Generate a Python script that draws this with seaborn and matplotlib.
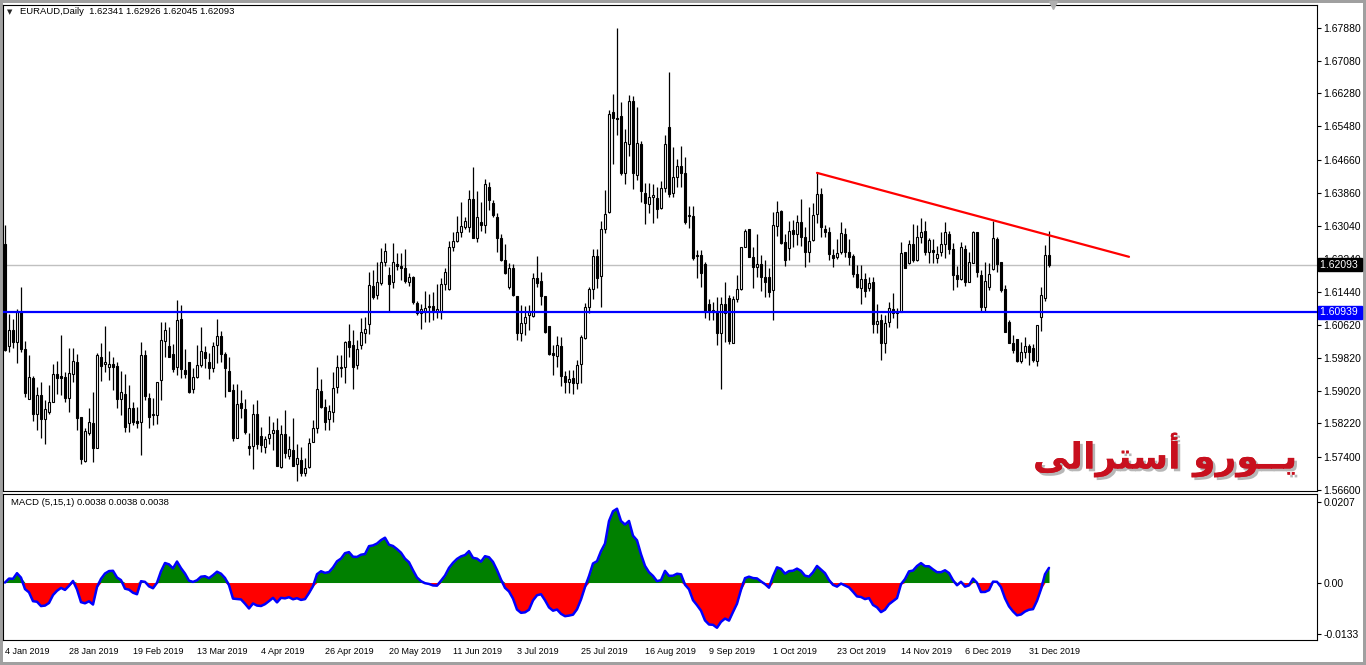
import numpy as np
import pandas as pd
import seaborn as sns
import matplotlib.pyplot as plt
import matplotlib.transforms as mtransforms
from matplotlib import patheffects

# daily EURAUD candles (bar 0 = 4 Jan 2019)
opens = [
    1.6261, 1.6011, 1.6051, 1.6021, 1.6095, 1.6004, 1.5882, 1.5933, 1.5845, 1.5892,
    1.5833, 1.5850, 1.5875, 1.5943, 1.5938, 1.5936, 1.5885, 1.5943, 1.5972, 1.5838,
    1.5731, 1.5799, 1.5824, 1.5762, 1.5985, 1.5968, 1.5960, 1.5968, 1.5963, 1.5882,
    1.5894, 1.5824, 1.5860, 1.5828, 1.5826, 1.5990, 1.5885, 1.5843, 1.5843, 1.5929,
    1.6024, 1.6011, 1.5992, 1.5960, 1.6077, 1.5953, 1.5972, 1.5907, 1.5936, 1.5965,
    1.5997, 1.5972, 1.5958, 1.6014, 1.6036, 1.5992, 1.5950, 1.5904, 1.5787, 1.5872,
    1.5858, 1.5767, 1.5767, 1.5845, 1.5792, 1.5765, 1.5787, 1.5799, 1.5806, 1.5716,
    1.5797, 1.5743, 1.5758, 1.5723, 1.5733, 1.5701, 1.5716, 1.5777, 1.5811, 1.5902,
    1.5862, 1.5833, 1.5850, 1.5911, 1.5958, 1.5960, 1.6024, 1.6014, 1.5965, 1.6014,
    1.6043, 1.6065, 1.6158, 1.6136, 1.6165, 1.6217, 1.6185, 1.6168, 1.6212, 1.6207,
    1.6202, 1.6168, 1.6180, 1.6116, 1.6092, 1.6095, 1.6107, 1.6109, 1.6095, 1.6097,
    1.6163, 1.6151, 1.6253, 1.6268, 1.6290, 1.6302, 1.6302, 1.6370, 1.6275, 1.6314,
    1.6307, 1.6400, 1.6361, 1.6326, 1.6275, 1.6222, 1.6155, 1.6202, 1.6134, 1.6043,
    1.6068, 1.6087, 1.6085, 1.6178, 1.6170, 1.6134, 1.6060, 1.5994, 1.5987, 1.6011,
    1.5938, 1.5924, 1.5933, 1.5921, 1.5968, 1.6031, 1.6107, 1.6151, 1.6231, 1.6182,
    1.6297, 1.6339, 1.6583, 1.6568, 1.6573, 1.6434, 1.6505, 1.6610, 1.6429, 1.6505,
    1.6385, 1.6358, 1.6375, 1.6373, 1.6348, 1.6397, 1.6546, 1.6385, 1.6424, 1.6451,
    1.6434, 1.6329, 1.6329, 1.6231, 1.6234, 1.6212, 1.6114, 1.6095, 1.6097, 1.6043,
    1.6114, 1.6129, 1.6019, 1.6126, 1.6151, 1.6253, 1.6297, 1.6229, 1.6204, 1.6212,
    1.6180, 1.6180, 1.6148, 1.6305, 1.6341, 1.6265, 1.6251, 1.6295, 1.6285, 1.6314,
    1.6278, 1.6241, 1.6270, 1.6334, 1.6383, 1.6297, 1.6290, 1.6234, 1.6229, 1.6241,
    1.6285, 1.6241, 1.6231, 1.6187, 1.6153, 1.6175, 1.6153, 1.6168, 1.6065, 1.6075,
    1.6019, 1.6070, 1.6102, 1.6092, 1.6095, 1.6241, 1.6214, 1.6261, 1.6222, 1.6278,
    1.6292, 1.6241, 1.6246, 1.6226, 1.6241, 1.6261, 1.6285, 1.6248, 1.6185, 1.6175,
    1.6248, 1.6168, 1.6214, 1.6290, 1.6185, 1.6107, 1.6156, 1.6200, 1.6273, 1.6217,
    1.6151, 1.6070, 1.6019, 1.6028, 1.5975, 1.5997, 1.6011, 1.6007, 1.5975, 1.6082,
    1.6129, 1.62341,
]
highs = [
    1.6307, 1.6090, 1.6077, 1.6102, 1.6156, 1.6024, 1.5990, 1.5938, 1.5911, 1.5924,
    1.5880, 1.5916, 1.5968, 1.5975, 1.6038, 1.5948, 1.6007, 1.6007, 1.5992, 1.5838,
    1.5811, 1.5860, 1.5899, 1.5994, 1.6019, 1.6060, 1.5999, 1.5985, 1.5972, 1.5950,
    1.5943, 1.5916, 1.5875, 1.5862, 1.6021, 1.6002, 1.5897, 1.5885, 1.5924, 1.6070,
    1.6070, 1.6058, 1.6016, 1.6124, 1.6112, 1.6004, 1.5972, 1.5958, 1.6014, 1.6058,
    1.6011, 1.5994, 1.6021, 1.6077, 1.6048, 1.5997, 1.5985, 1.5919, 1.5919, 1.5904,
    1.5882, 1.5799, 1.5870, 1.5880, 1.5814, 1.5792, 1.5841, 1.5826, 1.5836, 1.5819,
    1.5855, 1.5792, 1.5836, 1.5772, 1.5765, 1.5738, 1.5787, 1.5831, 1.5960, 1.5931,
    1.5882, 1.5867, 1.5948, 1.5990, 1.5990, 1.6024, 1.6065, 1.6051, 1.6026, 1.6080,
    1.6082, 1.6192, 1.6197, 1.6217, 1.6251, 1.6263, 1.6204, 1.6263, 1.6239, 1.6239,
    1.6248, 1.6190, 1.6182, 1.6121, 1.6114, 1.6146, 1.6139, 1.6143, 1.6163, 1.6178,
    1.6202, 1.6268, 1.6290, 1.6329, 1.6363, 1.6326, 1.6393, 1.6449, 1.6390, 1.6363,
    1.6419, 1.6412, 1.6368, 1.6336, 1.6285, 1.6261, 1.6214, 1.6212, 1.6134, 1.6112,
    1.6109, 1.6112, 1.6190, 1.6231, 1.6192, 1.6134, 1.6060, 1.6014, 1.6036, 1.6033,
    1.5950, 1.5953, 1.5953, 1.5977, 1.6038, 1.6116, 1.6156, 1.6248, 1.6248, 1.6317,
    1.6393, 1.6588, 1.6627, 1.6788, 1.6607, 1.6541, 1.6624, 1.6622, 1.6595, 1.6512,
    1.6410, 1.6410, 1.6407, 1.6400, 1.6414, 1.6527, 1.6681, 1.6497, 1.6468, 1.6500,
    1.6473, 1.6353, 1.6353, 1.6246, 1.6246, 1.6217, 1.6126, 1.6119, 1.6131, 1.6131,
    1.6168, 1.6136, 1.6134, 1.6185, 1.6253, 1.6297, 1.6297, 1.6253, 1.6285, 1.6234,
    1.6222, 1.6202, 1.6339, 1.6366, 1.6344, 1.6285, 1.6317, 1.6319, 1.6331, 1.6371,
    1.6302, 1.6351, 1.6361, 1.6434, 1.6397, 1.6307, 1.6302, 1.6248, 1.6273, 1.6314,
    1.6300, 1.6273, 1.6236, 1.6209, 1.6209, 1.6190, 1.6180, 1.6180, 1.6114, 1.6090,
    1.6087, 1.6119, 1.6141, 1.6104, 1.6265, 1.6241, 1.6270, 1.6309, 1.6307, 1.6324,
    1.6317, 1.6275, 1.6273, 1.6256, 1.6290, 1.6314, 1.6292, 1.6263, 1.6207, 1.6265,
    1.6258, 1.6241, 1.6292, 1.6290, 1.6197, 1.6217, 1.6214, 1.6317, 1.6278, 1.6217,
    1.6161, 1.6075, 1.6038, 1.6028, 1.6021, 1.6033, 1.6016, 1.6016, 1.6063, 1.6156,
    1.6258, 1.62926,
]
lows = [
    1.5998, 1.5997, 1.6007, 1.5970, 1.5997, 1.5887, 1.5882, 1.5828, 1.5806, 1.5787,
    1.5772, 1.5845, 1.5875, 1.5894, 1.5892, 1.5875, 1.5850, 1.5924, 1.5806, 1.5723,
    1.5728, 1.5794, 1.5728, 1.5762, 1.5926, 1.5948, 1.5929, 1.5904, 1.5860, 1.5843,
    1.5801, 1.5801, 1.5819, 1.5811, 1.5745, 1.5880, 1.5811, 1.5819, 1.5821, 1.5880,
    1.5985, 1.5985, 1.5948, 1.5941, 1.5933, 1.5933, 1.5897, 1.5897, 1.5933, 1.5960,
    1.5958, 1.5931, 1.5948, 1.5970, 1.5972, 1.5887, 1.5902, 1.5780, 1.5787, 1.5836,
    1.5797, 1.5745, 1.5711, 1.5760, 1.5753, 1.5750, 1.5772, 1.5758, 1.5718, 1.5714,
    1.5738, 1.5736, 1.5718, 1.5682, 1.5694, 1.5694, 1.5714, 1.5777, 1.5799, 1.5860,
    1.5806, 1.5806, 1.5826, 1.5897, 1.5936, 1.5921, 1.5985, 1.5907, 1.5955, 1.6004,
    1.6019, 1.6041, 1.6126, 1.6126, 1.6160, 1.6207, 1.6097, 1.6153, 1.6197, 1.6173,
    1.6165, 1.6158, 1.6114, 1.6087, 1.6053, 1.6070, 1.6070, 1.6075, 1.6080, 1.6077,
    1.6148, 1.6148, 1.6244, 1.6265, 1.6278, 1.6297, 1.6290, 1.6275, 1.6265, 1.6292,
    1.6287, 1.6344, 1.6326, 1.6241, 1.6219, 1.6187, 1.6151, 1.6134, 1.6026, 1.6024,
    1.6038, 1.6051, 1.6082, 1.6156, 1.6112, 1.6043, 1.5990, 1.5941, 1.5960, 1.5914,
    1.5897, 1.5897, 1.5894, 1.5907, 1.5921, 1.6028, 1.6092, 1.6126, 1.6153, 1.6107,
    1.6287, 1.6336, 1.6456, 1.6527, 1.6429, 1.6407, 1.6475, 1.6395, 1.6417, 1.6363,
    1.6309, 1.6336, 1.6312, 1.6324, 1.6346, 1.6388, 1.6375, 1.6375, 1.6400, 1.6400,
    1.6309, 1.6300, 1.6222, 1.6178, 1.6156, 1.6080, 1.6075, 1.6075, 1.6014, 1.5907,
    1.6021, 1.6016, 1.6019, 1.6119, 1.6148, 1.6253, 1.6229, 1.6153, 1.6180, 1.6146,
    1.6131, 1.6131, 1.6075, 1.6280, 1.6261, 1.6207, 1.6222, 1.6253, 1.6258, 1.6256,
    1.6204, 1.6217, 1.6268, 1.6312, 1.6278, 1.6278, 1.6222, 1.6204, 1.6224, 1.6236,
    1.6229, 1.6209, 1.6180, 1.6153, 1.6114, 1.6131, 1.6146, 1.6043, 1.6043, 1.5977,
    1.5994, 1.6058, 1.6080, 1.6055, 1.6095, 1.6202, 1.6212, 1.6217, 1.6219, 1.6263,
    1.6234, 1.6214, 1.6214, 1.6214, 1.6231, 1.6226, 1.6236, 1.6148, 1.6156, 1.6173,
    1.6158, 1.6168, 1.6214, 1.6180, 1.6095, 1.6095, 1.6148, 1.6197, 1.6192, 1.6143,
    1.6046, 1.6019, 1.5994, 1.5972, 1.5970, 1.5982, 1.5965, 1.5972, 1.5963, 1.6048,
    1.6121, 1.62045,
]
closes = [
    1.6002, 1.6051, 1.6021, 1.6095, 1.6004, 1.5897, 1.5936, 1.5845, 1.5892, 1.5833,
    1.5858, 1.5875, 1.5943, 1.5933, 1.5933, 1.5885, 1.5946, 1.5975, 1.5836, 1.5736,
    1.5804, 1.5826, 1.5762, 1.5990, 1.5963, 1.5972, 1.5968, 1.5960, 1.5882, 1.5899,
    1.5814, 1.5860, 1.5826, 1.5824, 1.5990, 1.5889, 1.5838, 1.5845, 1.5924, 1.6026,
    1.6051, 1.5985, 1.5955, 1.6075, 1.5955, 1.5943, 1.5899, 1.5936, 1.5965, 1.5999,
    1.5982, 1.5958, 1.6011, 1.6036, 1.5992, 1.5958, 1.5902, 1.5787, 1.5870, 1.5860,
    1.5801, 1.5762, 1.5845, 1.5772, 1.5770, 1.5784, 1.5797, 1.5806, 1.5718, 1.5797,
    1.5750, 1.5760, 1.5718, 1.5738, 1.5701, 1.5714, 1.5775, 1.5811, 1.5907, 1.5862,
    1.5826, 1.5853, 1.5909, 1.5960, 1.5960, 1.6020, 1.6009, 1.5960, 1.6004, 1.6046,
    1.6053, 1.6160, 1.6131, 1.6168, 1.6217, 1.6244, 1.6163, 1.6217, 1.6207, 1.6202,
    1.6170, 1.6180, 1.6119, 1.6092, 1.6102, 1.6104, 1.6109, 1.6095, 1.6102, 1.6163,
    1.6192, 1.6253, 1.6268, 1.6290, 1.6305, 1.6317, 1.6370, 1.6275, 1.6326, 1.6307,
    1.6407, 1.6368, 1.6331, 1.6275, 1.6222, 1.6190, 1.6202, 1.6136, 1.6043, 1.6068,
    1.6082, 1.6095, 1.6178, 1.6165, 1.6134, 1.6046, 1.5992, 1.5990, 1.6014, 1.5938,
    1.5924, 1.5931, 1.5921, 1.5965, 1.6033, 1.6107, 1.6151, 1.6231, 1.6178, 1.6297,
    1.6334, 1.6578, 1.6568, 1.6566, 1.6434, 1.6510, 1.6610, 1.6434, 1.6507, 1.6390,
    1.6361, 1.6375, 1.6380, 1.6346, 1.6397, 1.6505, 1.6383, 1.6424, 1.6451, 1.6434,
    1.6314, 1.6331, 1.6226, 1.6234, 1.6190, 1.6095, 1.6095, 1.6099, 1.6043, 1.6114,
    1.6092, 1.6024, 1.6126, 1.6151, 1.6253, 1.6292, 1.6229, 1.6204, 1.6212, 1.6180,
    1.6168, 1.6143, 1.6307, 1.6339, 1.6263, 1.6222, 1.6292, 1.6285, 1.6314, 1.6278,
    1.6241, 1.6268, 1.6331, 1.6383, 1.6302, 1.6290, 1.6236, 1.6226, 1.6239, 1.6287,
    1.6241, 1.6229, 1.6187, 1.6156, 1.6175, 1.6146, 1.6165, 1.6065, 1.6073, 1.6019,
    1.6068, 1.6104, 1.6092, 1.6097, 1.6239, 1.6202, 1.6261, 1.6222, 1.6278, 1.6290,
    1.6241, 1.6270, 1.6241, 1.6236, 1.6261, 1.6290, 1.6248, 1.6185, 1.6175, 1.6253,
    1.6168, 1.6217, 1.6290, 1.6192, 1.6107, 1.6170, 1.6187, 1.6275, 1.6212, 1.6148,
    1.6046, 1.6019, 1.6002, 1.5975, 1.5997, 1.6011, 1.5997, 1.5977, 1.6063, 1.6136,
    1.6234, 1.62093,
]

date_labels = ["4 Jan 2019", "28 Jan 2019", "19 Feb 2019", "13 Mar 2019", "4 Apr 2019",
               "26 Apr 2019", "20 May 2019", "11 Jun 2019", "3 Jul 2019", "25 Jul 2019",
               "16 Aug 2019", "9 Sep 2019", "1 Oct 2019", "23 Oct 2019", "14 Nov 2019",
               "6 Dec 2019", "31 Dec 2019"]
price_ticks = [1.67880, 1.67080, 1.66280, 1.65480, 1.64660, 1.63860, 1.63040, 1.62240,
               1.61440, 1.60620, 1.59820, 1.59020, 1.58220, 1.57400, 1.56600]
macd_ticks = [0.0207, 0.0, -0.0133]
macd_tick_labels = ["0.0207", "0.00", "-0.0133"]

support_level = 1.60939
bid_price = 1.62093
trend_bars = [203, 281]
trend_prices = [1.6434, 1.6229]
fast_period, slow_period = 5, 15

df = pd.DataFrame({"open": opens, "high": highs, "low": lows, "close": closes})
df["bar"] = np.arange(len(df))
df["macd"] = (df["close"].ewm(span=fast_period, adjust=False).mean()
              - df["close"].ewm(span=slow_period, adjust=False).mean())

sns.set_style("white")
plt.rcParams["font.family"] = ["Liberation Sans", "DejaVu Sans"]

W, H = 1366, 665
fig = plt.figure(figsize=(W / 100, H / 100), dpi=100, facecolor="white",
                 edgecolor="#a0a0a0", linewidth=3)
ax = fig.add_axes([3 / W, 1 - 491 / H, 1314 / W, 486 / H])
ax2 = fig.add_axes([3 / W, 1 - 640 / H, 1314 / W, 146 / H])

# --- price panel: candlesticks
up = df["close"] >= df["open"]
body_low = df[["open", "close"]].min(axis=1)
body_h = (df["close"] - df["open"]).abs().clip(lower=0.00008)
ax.vlines(df["bar"], df["low"], df["high"], color="black", linewidth=0.9, zorder=2)
ax.bar(df["bar"][up], body_h[up], bottom=body_low[up], width=0.62,
       color="white", edgecolor="black", linewidth=0.8, zorder=3)
ax.bar(df["bar"][~up], body_h[~up], bottom=body_low[~up], width=0.62,
       color="black", edgecolor="black", linewidth=0.8, zorder=3)

ax.axhline(bid_price, color="#c0c0c0", linewidth=1.0, zorder=1)
ax.axhline(support_level, color="#0000ff", linewidth=1.6, zorder=4)
sns.lineplot(x=trend_bars, y=trend_prices, ax=ax, color="#ff0000", linewidth=1.6, zorder=5)

ax.set_xlim(-0.5, 328)
ax.set_ylim(1.5657, 1.6844)
ax.set_xticks([])
ax.yaxis.tick_right()
ax.set_yticks(price_ticks)
ax.set_yticklabels([f"{v:.5f}" for v in price_ticks])
ax.tick_params(axis="y", length=3, width=0.8, pad=1.5, labelsize=7.5, colors="black")
ax.set_xlabel("")
ax.set_ylabel("")
for s in ax.spines.values():
    s.set_color("black")
    s.set_linewidth(0.8)

# price tags on the scale (the bid tag partly hides the 1.62240 label, as in MT4)
ytrans = mtransforms.blended_transform_factory(ax.transAxes, ax.transData)
ax.text(1.002, bid_price, "1.62093 ", transform=ytrans, ha="left", va="center",
        fontsize=7.5, color="white", zorder=10, clip_on=False,
        bbox=dict(boxstyle="square,pad=0.15", facecolor="black", edgecolor="black"))
ax.text(1.002, support_level, "1.60939 ", transform=ytrans, ha="left", va="center",
        fontsize=7.5, color="white", zorder=10, clip_on=False,
        bbox=dict(boxstyle="square,pad=0.15", facecolor="#0000ff", edgecolor="#0000ff"))
ax.plot([262], [1.0], transform=mtransforms.blended_transform_factory(ax.transData, ax.transAxes),
        marker="v", markersize=6, color="#b0b0b0", clip_on=False, zorder=6)

fig.text(7 / W, 1 - 12 / H, "\u25bc", fontsize=5, va="center", ha="left",
         family=["DejaVu Sans"])
fig.text(20 / W, 1 - 12 / H, "EURAUD,Daily  1.62341 1.62926 1.62045 1.62093",
         fontsize=6.8, va="center", ha="left", color="black")

# Arabic caption, shaped glyphs in visual order
caption = "\ufef0\ufedf\ufe8d\ufeae\ufe98\ufeb3\ufe83 \ufeed\ufead\ufeee\u0640\u0640\ufef3"
fig.text(1165 / W, 1 - 455 / H, caption, fontsize=26, fontweight="bold",
         color="#c8101e", ha="center", va="center", family=["DejaVu Sans"],
         path_effects=[patheffects.withSimplePatchShadow(offset=(2, -2), shadow_rgbFace="#888888", alpha=0.6),
                       patheffects.Normal()])

# --- MACD panel
pos = df["macd"].where(df["macd"] >= 0, 0)
neg = df["macd"].where(df["macd"] < 0, 0)
ax2.fill_between(df["bar"], 0, pos, color="#008000", linewidth=0)
ax2.fill_between(df["bar"], 0, neg, color="#ff0000", linewidth=0)
sns.lineplot(x=df["bar"], y=df["macd"], ax=ax2, color="#0000ff", linewidth=1.8)

ax2.set_xlim(-0.5, 328)
ax2.set_ylim(-0.0148, 0.0228)
ax2.yaxis.tick_right()
ax2.set_yticks(macd_ticks)
ax2.set_yticklabels(macd_tick_labels)
ax2.tick_params(axis="y", length=3, width=0.8, pad=1.5, labelsize=7.5, colors="black")
ax2.set_xticks(np.arange(0, 16 * len(date_labels), 16))
ax2.set_xticklabels(date_labels)
for lbl in ax2.get_xticklabels():
    lbl.set_horizontalalignment("left")
ax2.tick_params(axis="x", length=3, width=0.8, pad=2, labelsize=6.5, colors="black")
ax2.set_xlabel("")
ax2.set_ylabel("")
for s in ax2.spines.values():
    s.set_color("black")
    s.set_linewidth(0.8)
ax2.text(8 / 1314, 0.94, "MACD (5,15,1) 0.0038 0.0038 0.0038", transform=ax2.transAxes,
         fontsize=6.8, va="center", ha="left", color="black")

fig.savefig("out.png", dpi=100, facecolor=fig.get_facecolor(), edgecolor=fig.get_edgecolor())
